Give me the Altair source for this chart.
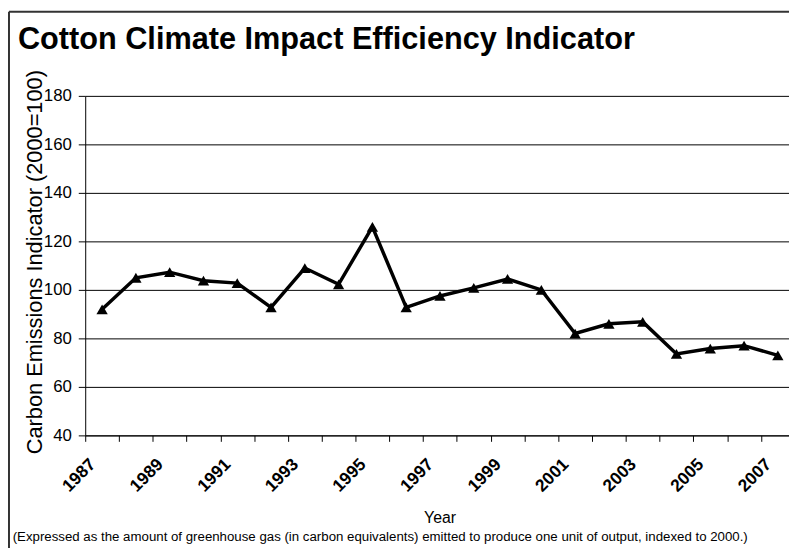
import altair as alt
import pandas as pd

# ---- data ----
years = list(range(1987, 2008))
values = [92.0, 105.0, 107.3, 103.8, 102.8, 92.8, 109.0, 102.3, 126.0, 92.8,
          97.5, 100.8, 104.5, 100.0, 82.0, 86.0, 86.8, 73.6, 75.8, 77.0, 73.0]
label_years = [1987, 1989, 1991, 1993, 1995, 1997, 1999, 2001, 2003, 2005, 2007]
y_ticks = [40, 60, 80, 100, 120, 140, 160, 180]

title_text = "Cotton Climate Impact Efficiency Indicator"
y_title = "Carbon Emissions Indicator (2000=100)"
x_title = "Year"
caption = ("(Expressed as the amount of greenhouse gas (in carbon equivalents) "
           "emitted to produce one unit of output, indexed to 2000.)")

df = pd.DataFrame({"Year": years, "Value": values})
one = pd.DataFrame({"k": [0]})

FONT = "Liberation Sans"
W, H = 711, 343
X0, X1 = 1986.5, 2007.33
PX = W / (X1 - X0)

label_list = ",".join(str(v) for v in label_years)
x_enc = alt.X(
    "Year:Q",
    scale=alt.Scale(domain=[X0, X1], nice=False, zero=False),
    axis=alt.Axis(
        values=years, format="d",
        labelExpr=f"indexof([{label_list}], datum.value) >= 0 ? datum.label : ''",
        tickOffset=-PX / 2, labelOffset=1,
        labelAngle=315, labelAlign="right", labelBaseline="top",
        labelPadding=14, tickSize=6,
        labelFontSize=17.5, labelFontWeight="bold", labelFont=FONT, labelColor="black",
        labelOverlap=False, labelFlush=False,
        domainColor="black", domainWidth=1, tickColor="black", tickWidth=1,
        grid=False,
        title=x_title, titleFont=FONT, titleFontSize=16, titleFontWeight="normal",
        titleColor="black", titleX=358, titleY=88,
        titleBaseline="alphabetic", titleAlign="center",
    ),
)
y_enc = alt.Y(
    "Value:Q",
    scale=alt.Scale(domain=[40, 180], nice=False, zero=False),
    axis=alt.Axis(
        values=y_ticks, grid=True, gridColor="black", gridWidth=1, gridOpacity=1,
        tickSize=7, tickColor="black", domainColor="black", domainWidth=1,
        labelPadding=7, labelFontSize=17, labelFont=FONT, labelColor="black",
        title=y_title, titleFont=FONT, titleFontSize=22, titleFontWeight="normal",
        titleColor="black", titleX=-44.3, titleY=167.5, titleAngle=270,
        titleBaseline="alphabetic", titleAlign="center",
    ),
)

base = alt.Chart(df).encode(x=x_enc, y=y_enc)
line = base.mark_line(color="black", strokeWidth=3.5)
pts = base.mark_point(shape="triangle-up", filled=True, size=130, color="black", opacity=1)

title = alt.Chart(one).mark_text(
    text=title_text, font=FONT, fontSize=31, fontWeight="bold",
    align="left", baseline="alphabetic", color="black"
).encode(x=alt.value(-68), y=alt.value(-47.3))

cap = alt.Chart(one).mark_text(
    text=caption, font=FONT, fontSize=13.4,
    align="left", baseline="alphabetic", color="black"
).encode(x=alt.value(-73.3), y=alt.value(450))

frame_left = alt.Chart(one).mark_rule(color="#333333", strokeWidth=2).encode(
    x=alt.value(-77), y=alt.value(-85), y2=alt.value(460))
frame_top = alt.Chart(one).mark_rule(color="#333333", strokeWidth=2).encode(
    x=alt.value(-77), x2=alt.value(W + 10), y=alt.value(-85))

chart = alt.layer(line, pts, title, cap, frame_left, frame_top).properties(
    width=W, height=H,
    autosize=alt.AutoSizeParams(type="none"),
    padding={"left": 78, "top": 86, "right": 0, "bottom": 111},
    background="white",
).configure_view(stroke="transparent")

chart.save("out.html", embed_options={"renderer": "svg", "actions": False})
